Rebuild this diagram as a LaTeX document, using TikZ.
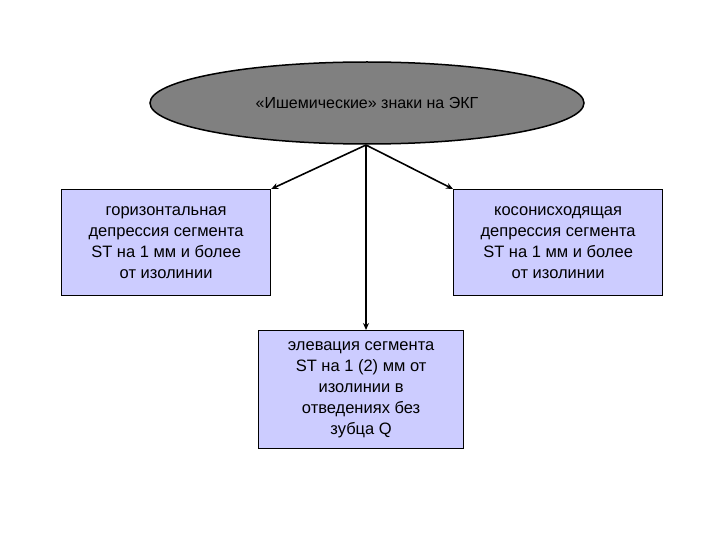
\documentclass[tikz,border=0pt]{standalone}
\usepackage{fontspec}
\setmainfont{Liberation Sans}
\usetikzlibrary{arrows.meta,shapes.geometric}
\definecolor{boxfill}{HTML}{CCCCFF}
\definecolor{ellfill}{HTML}{808080}
\tikzset{
  box/.style={draw=black, line width=1.2pt, fill=boxfill, align=center, font=\fontsize{16.5}{21}\selectfont, inner sep=0pt, anchor=north west},
  conn/.style={line width=1.6pt, -{Stealth[length=7pt,width=6pt]}}
}
\begin{document}
\begin{tikzpicture}[x=1pt,y=-1pt]
\useasboundingbox (0,0) rectangle (720,540);
\node[draw=black, line width=1.5pt, fill=ellfill, ellipse, minimum width=434pt, minimum height=82pt, inner sep=0pt, font=\fontsize{16}{18}\selectfont] (top) at (367,103) {«Ишемические» знаки на ЭКГ};
\node[box, minimum width=209pt, minimum height=106pt] (l) at (61,189) {горизонтальная\\депрессия сегмента\\ST на 1 мм и более\\от изолинии};
\node[box, minimum width=209pt, minimum height=106pt] (r) at (453,189) {косонисходящая\\депрессия сегмента\\ST на 1 мм и более\\от изолинии};
\node[box, minimum width=205pt, minimum height=118pt] (m) at (258,330) {элевация сегмента\\ST на 1 (2) мм от\\изолинии в\\отведениях без\\зубца Q};
\coordinate (o) at (366,145);
\draw[conn] (o) -- (l.north east);
\draw[conn] (o) -- (r.north west);
\draw[conn] (o) -- (m.north -| o);
\end{tikzpicture}
\end{document}
